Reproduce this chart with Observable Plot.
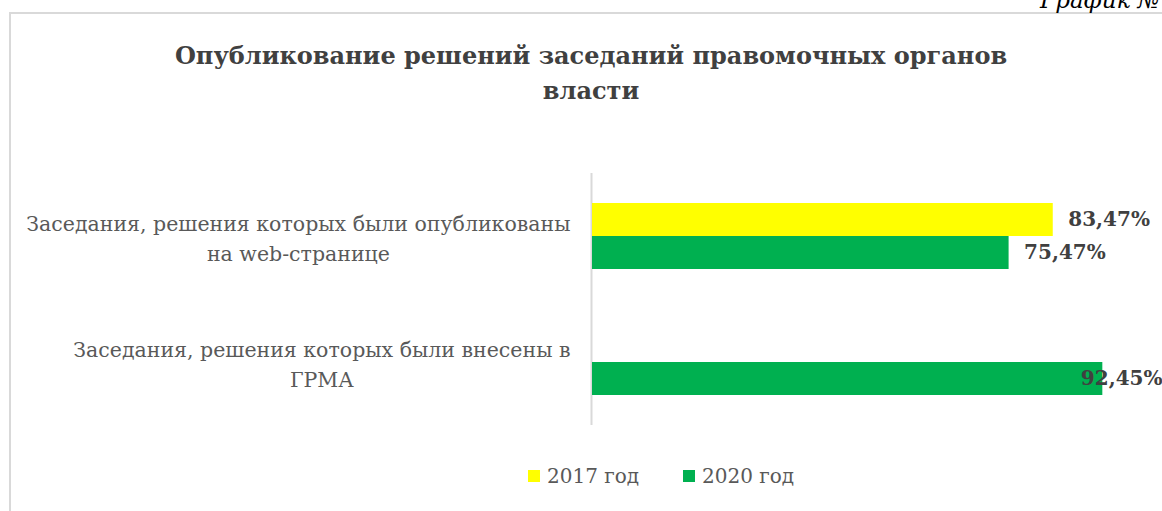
<!DOCTYPE html>
<html>
<head>
<meta charset="utf-8">
<script src="https://cdn.jsdelivr.net/npm/d3@7"></script>
<script src="https://cdn.jsdelivr.net/npm/@observablehq/plot@0.6"></script>
<style>
  html, body { margin: 0; padding: 0; background: #fff; }
  body { width: 1162px; height: 511px; position: relative; overflow: hidden; font-family: "DejaVu Serif", serif; }
  #frameTop { position: absolute; left: 10px; top: 12px; width: 1152px; height: 2px; background: #d9d9d9; }
  #frameLeft { position: absolute; left: 9px; top: 12px; width: 2px; height: 499px; background: #d9d9d9; }
  #corner { position: absolute; left: 1040px; top: -11px; font: italic 23px "DejaVu Serif", serif; color: #000; white-space: nowrap; line-height: 23px; }
  #title { position: absolute; left: 0; top: 38px; width: 1182px; text-align: center; font: bold 24px "DejaVu Serif", serif; color: #404040; line-height: 35px; white-space: pre-line; }
  #chart { position: absolute; left: 0; top: 150px; }
  #legend { position: absolute; left: 528px; top: 462px; display: flex; align-items: center; font: 20px "DejaVu Serif", serif; color: #595959; line-height: 28px; }
  .item { display: flex; align-items: center; margin-right: 44px; }
  .sw { width: 12px; height: 12px; margin-right: 7px; }
</style>
</head>
<body>
<div id="frameTop"></div>
<div id="frameLeft"></div>
<div id="corner"></div>
<div id="title"></div>
<div id="chart"></div>
<div id="legend"></div>
<script>
const cornerText = "График №";
const titleText = "Опубликование решений заседаний правомочных органов\nвласти";
const categories = [
  "Заседания, решения которых были опубликованы\nна web-странице",
  "Заседания, решения которых были внесены в\nГРМА"
];
const years = ["2017 год", "2020 год"];
const values2017 = [83.47, null];
const values2020 = [75.47, 92.45];
const colors = ["#FFFF00", "#00B050"];

document.getElementById("corner").textContent = cornerText;
document.getElementById("title").textContent = titleText;

const rows = [];
categories.forEach((c, i) => {
  if (values2017[i] != null) rows.push({category: c, year: years[0], value: values2017[i]});
  if (values2020[i] != null) rows.push({category: c, year: years[1], value: values2020[i]});
});

const W = 1162, H = 300;
const mL = 592, mR = 18, mT = 23, mB = 25;
const plotW = W - mL - mR;

const ctx = document.createElement("canvas").getContext("2d");
function measure(text, font) { ctx.font = font; return ctx.measureText(text).width; }

const labelSize = 20.5;
const labelFont = labelSize + 'px "DejaVu Serif"';
const valueFont = 'bold 20px "DejaVu Serif"';
const fmt = v => v.toFixed(2).replace(".", ",") + "%";

const catMarks = categories.map(c => {
  const w = Math.max(...c.split("\n").map(l => measure(l, labelFont)));
  return Plot.text([c], {
    fy: d => d, text: d => d, frameAnchor: "left", textAnchor: "middle",
    dx: -(22 + w / 2), lineHeight: 1.46, fontSize: labelSize, fill: "#595959"
  });
});

const fits = d => mL + d.value / 100 * plotW + 15 + measure(fmt(d.value), valueFont) <= W;

const chart = Plot.plot({
  width: W, height: H,
  marginLeft: mL, marginRight: mR, marginTop: mT, marginBottom: mB,
  style: {fontFamily: "DejaVu Serif", background: "transparent", overflow: "visible"},
  x: {domain: [0, 100], axis: null},
  y: {domain: years, paddingInner: 0, paddingOuter: 0.88, axis: null},
  fy: {domain: categories, padding: 0, axis: null},
  color: {domain: years, range: colors},
  marks: [
    Plot.ruleX([0], {stroke: "#d9d9d9", strokeWidth: 2, dx: -1}),
    Plot.barX(rows, {fy: "category", y: "year", x: "value", fill: "year"}),
    Plot.text(rows.filter(fits), {
      fy: "category", y: "year", x: "value", text: d => fmt(d.value),
      textAnchor: "start", dx: 15, fontSize: 20, fontWeight: "bold", fill: "#404040"
    }),
    Plot.text(rows.filter(d => !fits(d)), {
      fy: "category", y: "year", text: d => fmt(d.value), frameAnchor: "right",
      textAnchor: "end", dx: 18, fontSize: 20, fontWeight: "bold", fill: "#404040"
    }),
    ...catMarks
  ]
});
document.getElementById("chart").appendChild(chart);

const legend = document.getElementById("legend");
years.forEach((y, i) => {
  const item = document.createElement("div");
  item.className = "item";
  const sw = document.createElement("div");
  sw.className = "sw";
  sw.style.background = colors[i];
  const t = document.createElement("span");
  t.textContent = y;
  item.appendChild(sw); item.appendChild(t);
  legend.appendChild(item);
});
</script>
</body>
</html>
